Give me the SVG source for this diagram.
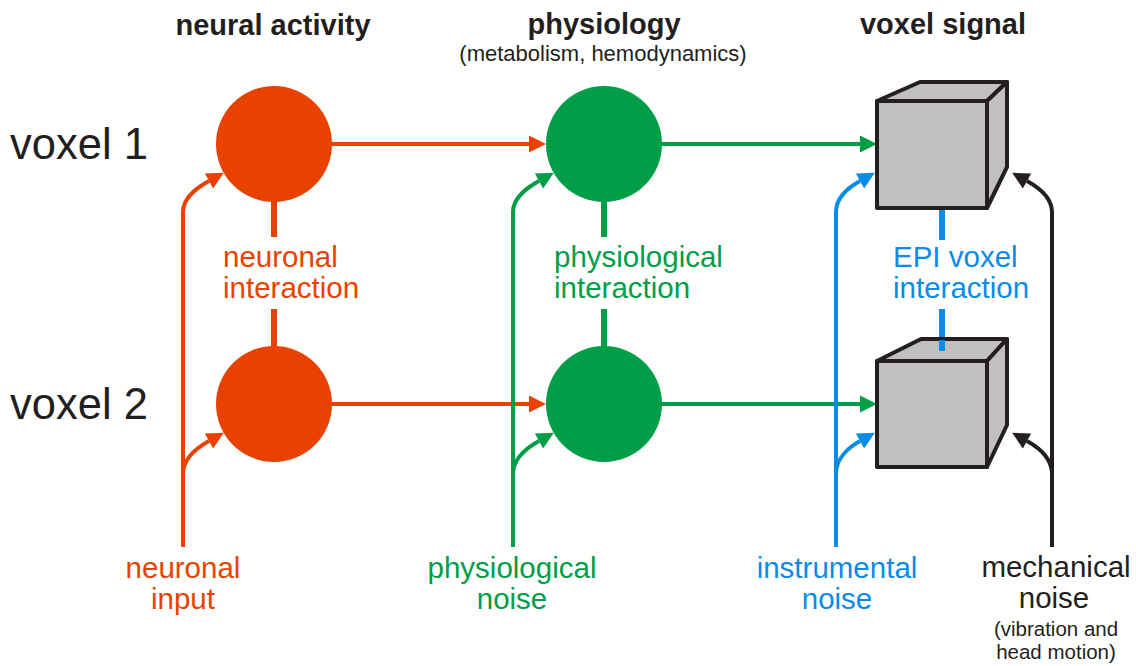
<svg xmlns="http://www.w3.org/2000/svg" width="1136" height="666" viewBox="0 0 1136 666">
  <style>
    text { font-family: "Liberation Sans", Arial, sans-serif; }
    .head { font-size: 29px; font-weight: bold; fill: #231f20; text-anchor: middle; }
    .sub { font-size: 22px; fill: #231f20; text-anchor: middle; }
    .note { font-size: 20.5px; fill: #231f20; text-anchor: middle; }
    .row { font-size: 43.5px; fill: #231f20; }
    .lbl { font-size: 29.5px; }
    .mid { text-anchor: middle; }
    .orange { fill: #e94200; }
    .green { fill: #009e47; }
    .blue { fill: #0a8ce6; }
    .black { fill: #231f20; }
    .arrow { fill: none; stroke-width: 4; }
    .link { fill: none; stroke-width: 6; }
    .cube { fill: #c1c0bf; stroke: #231f20; stroke-width: 4; stroke-linejoin: round; }
  </style>
  <defs>
    <marker id="ah-orange" markerUnits="userSpaceOnUse" markerWidth="17" markerHeight="17" refX="0" refY="8.5" orient="auto" overflow="visible">
      <path d="M0,0 L17,8.5 L0,17 z" fill="#e94200"/>
    </marker>
    <marker id="ah-green" markerUnits="userSpaceOnUse" markerWidth="17" markerHeight="17" refX="0" refY="8.5" orient="auto" overflow="visible">
      <path d="M0,0 L17,8.5 L0,17 z" fill="#009e47"/>
    </marker>
    <marker id="ah-blue" markerUnits="userSpaceOnUse" markerWidth="17" markerHeight="17" refX="0" refY="8.5" orient="auto" overflow="visible">
      <path d="M0,0 L17,8.5 L0,17 z" fill="#0a8ce6"/>
    </marker>
    <marker id="ah-black" markerUnits="userSpaceOnUse" markerWidth="17" markerHeight="17" refX="0" refY="8.5" orient="auto" overflow="visible">
      <path d="M0,0 L17,8.5 L0,17 z" fill="#231f20"/>
    </marker>
  </defs>

  <!-- column and row headings -->
  <g id="headings">
    <text class="head" x="273" y="35">neural activity</text>
    <text class="head" x="604" y="34">physiology</text>
    <text class="sub" x="603" y="61">(metabolism, hemodynamics)</text>
    <text class="head" x="943" y="34">voxel signal</text>
    <text class="row" x="10" y="159">voxel 1</text>
    <text class="row" x="10" y="419">voxel 2</text>
  </g>

  <!-- connectors -->
  <g id="connectors">
    <!-- neural activity -> physiology -> voxel signal -->
    <path class="arrow" stroke="#e94200" d="M330,144 H529" marker-end="url(#ah-orange)"/>
    <path class="arrow" stroke="#e94200" d="M330,404 H529" marker-end="url(#ah-orange)"/>
    <path class="arrow" stroke="#009e47" d="M660,144 H860" marker-end="url(#ah-green)"/>
    <path class="arrow" stroke="#009e47" d="M660,404 H860" marker-end="url(#ah-green)"/>

    <!-- interactions between voxels -->
    <path class="link" stroke="#e94200" d="M274,200 V237 M274,309 V348"/>
    <path class="link" stroke="#009e47" d="M604,200 V237 M604,309 V348"/>
    <path class="link" stroke="#0a8ce6" d="M942,208 V240 M942,309 V351"/>

    <!-- neuronal input -->
    <path class="arrow" stroke="#e94200" d="M183,547 V212 C183,196 200,186 209,181" marker-end="url(#ah-orange)"/>
    <path class="arrow" stroke="#e94200" d="M183,474 C183,457 200,446 209,441" marker-end="url(#ah-orange)"/>

    <!-- physiological noise -->
    <path class="arrow" stroke="#009e47" d="M513,547 V212 C513,196 530,186 539,181" marker-end="url(#ah-green)"/>
    <path class="arrow" stroke="#009e47" d="M513,474 C513,457 530,446 539,441" marker-end="url(#ah-green)"/>

    <!-- instrumental noise -->
    <path class="arrow" stroke="#0a8ce6" d="M836,547 V212 C836,196 851,186 860,181" marker-end="url(#ah-blue)"/>
    <path class="arrow" stroke="#0a8ce6" d="M836,474 C836,457 851,446 860,441" marker-end="url(#ah-blue)"/>

    <!-- mechanical noise -->
    <path class="arrow" stroke="#231f20" d="M1052,547 V212 C1052,196 1036,186 1027,181" marker-end="url(#ah-black)"/>
    <path class="arrow" stroke="#231f20" d="M1052,474 C1052,457 1036,446 1027,441" marker-end="url(#ah-black)"/>
  </g>

  <!-- neural activity nodes -->
  <g id="neural-1"><circle cx="274" cy="144" r="58" fill="#e94200"/></g>
  <g id="neural-2"><circle cx="274" cy="404" r="58" fill="#e94200"/></g>

  <!-- physiology nodes -->
  <g id="physio-1"><circle cx="604" cy="144" r="58" fill="#009e47"/></g>
  <g id="physio-2"><circle cx="604" cy="404" r="58" fill="#009e47"/></g>

  <!-- voxel signal nodes (cubes) -->
  <g id="voxel-1">
    <path class="cube" d="M877,101 L920,82 L1007,82 L987,101 Z"/>
    <path class="cube" d="M987,101 L1007,82 L1007,167 L987,208 Z"/>
    <rect class="cube" x="877" y="101" width="110" height="107"/>
  </g>
  <g id="voxel-2">
    <path class="cube" d="M877,361 L921,339 L1007,339 L987,361 Z"/>
    <path class="cube" d="M987,361 L1007,339 L1007,425 L987,467 Z"/>
    <rect class="cube" x="877" y="361" width="110" height="106"/>
  </g>
  <path class="link" stroke="#0a8ce6" d="M942,340 V351"/>

  <!-- interaction labels -->
  <g id="labels-interaction">
    <text class="lbl orange" x="223" y="267">neuronal</text>
    <text class="lbl orange" x="223" y="298">interaction</text>
    <text class="lbl green" x="554" y="267">physiological</text>
    <text class="lbl green" x="554" y="298">interaction</text>
    <text class="lbl blue" x="893" y="267">EPI voxel</text>
    <text class="lbl blue" x="893" y="298">interaction</text>
  </g>

  <!-- input and noise sources -->
  <g id="neuronal-input">
    <text class="lbl mid orange" x="183" y="578">neuronal</text>
    <text class="lbl mid orange" x="183" y="609">input</text>
  </g>
  <g id="physiological-noise">
    <text class="lbl mid green" x="512" y="578">physiological</text>
    <text class="lbl mid green" x="512" y="609">noise</text>
  </g>
  <g id="instrumental-noise">
    <text class="lbl mid blue" x="837" y="578">instrumental</text>
    <text class="lbl mid blue" x="837" y="609">noise</text>
  </g>
  <g id="mechanical-noise">
    <text class="lbl mid black" x="1056" y="577">mechanical</text>
    <text class="lbl mid black" x="1054" y="608">noise</text>
    <text class="note" x="1056" y="636">(vibration and</text>
    <text class="note" x="1056" y="659">head motion)</text>
  </g>
</svg>
